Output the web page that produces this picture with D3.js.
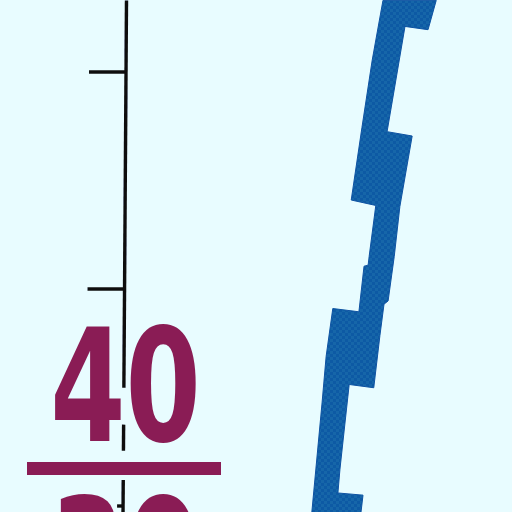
<!DOCTYPE html>
<html><head><meta charset="utf-8">
<script src="https://cdn.jsdelivr.net/npm/d3@7"></script>
<style>html,body{margin:0;padding:0;background:#e8fcff}svg{display:block}</style>
</head><body><svg id="c" width="512" height="512"></svg>
<script>
const tickValues = [44, 42, 40];
const bigLabels = [{t:"40", v:40.6}, {t:"30", v:39.03}];
const bandPos = [74.8,85.2,83.6,79.1,75.6,80.5,78.1,77.0,75.8,75.0,74.2,73.0,68.2,66.4,66.0,70.9,70.5,60.9,62.9,63.7,65.0,70.1,71.1,71.9,72.1,73.4,68.6,70.7,72.7];
const bandVal = [44.66,44.66,44.39,44.42,43.45,43.41,42.76,42.30,41.89,41.86,41.57,41.09,41.12,40.34,40.12,40.10,39.94,39.94,40.95,41.38,41.82,41.79,42.21,42.22,42.30,42.77,42.82,43.49,44.11];

const x = d3.scaleLinear().domain([0,100]).range([0,512]);
const y = d3.scaleLinear().domain([44,40]).range([72,506]);
const svg = d3.select("#c");
svg.append("rect").attr("width",512).attr("height",512).attr("fill","#e8fcff");

const defs = svg.append("defs");
defs.append("filter").attr("id","soft").append("feGaussianBlur").attr("stdDeviation",0.55);
const p = defs.append("pattern").attr("id","dots").attr("width",6).attr("height",6).attr("patternUnits","userSpaceOnUse");
p.append("rect").attr("width",6).attr("height",6).attr("fill","#1566a9");
p.append("rect").attr("width",3).attr("height",3).attr("fill","#0f5aa4");
p.append("rect").attr("x",3).attr("y",3).attr("width",3).attr("height",3).attr("fill","#0f5aa4");

const root = svg.append("g").attr("filter","url(#soft)");

root.append("path")
  .attr("d", d3.line().x(d=>x(d[0])).y(d=>y(d[1])).curve(d3.curveLinearClosed)(d3.zip(bandPos,bandVal)))
  .attr("fill","url(#dots)").attr("stroke","#0c52a2").attr("stroke-width",1);

// axis: slightly slanted black spine, broken where the big labels cross it
const axisX = d3.scaleLinear().domain([44.66,39.9]).range([126.5,123]);
const ink = "#0c0c10";
[[44.66,41.09],[40.75,40.51],[40.24,39.9]].forEach(s=>{
  root.append("line").attr("x1",axisX(s[0])).attr("x2",axisX(s[1])).attr("y1",y(s[0])).attr("y2",y(s[1]))
    .attr("stroke",ink).attr("stroke-width",3.4);
});
const tickLen = [37,37,6];
tickValues.forEach((v,i)=>{
  root.append("line").attr("x1",axisX(v)-tickLen[i]).attr("x2",axisX(v)).attr("y1",y(v)).attr("y2",y(v))
    .attr("stroke",ink).attr("stroke-width",3.4);
});

const maroon = "#8a1f55";
root.selectAll("text.big").data(bigLabels).join("text").attr("class","big")
  .attr("transform",d=>`translate(125.5,${y(d.v)}) scale(0.69,1)`)
  .attr("text-anchor","middle")
  .attr("font-family","'DejaVu Sans',sans-serif")
  .attr("font-weight","700").attr("font-size",157).attr("fill",maroon)
  .text(d=>d.t);
root.append("rect").attr("x",27).attr("y",462).attr("width",194).attr("height",13).attr("fill",maroon);
</script></body></html>
